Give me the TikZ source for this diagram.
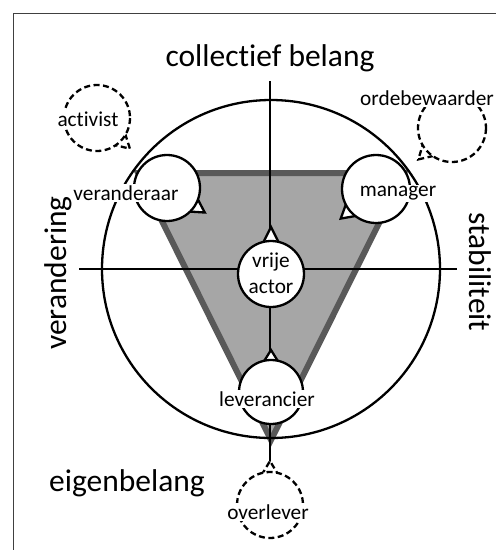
\documentclass[tikz,border=0pt]{standalone}
\usepackage{fontspec}
\setmainfont{Carlito}[Ligatures={NoCommon,NoRequired,NoContextual}]
\usetikzlibrary{calc}
\definecolor{tribord}{HTML}{595959}
\definecolor{trifill}{HTML}{A6A6A6}
\newcommand\bubble[6]{% name, center, radius, angle, tip distance, style
  \coordinate (#1) at #2;
  \pgfmathsetmacro\bubA{#4+18}\pgfmathsetmacro\bubB{#4-18}\pgfmathsetmacro\bubR{#3-3}
  \filldraw[#6] ($(#1)+(\bubA:\bubR)$) -- ($(#1)+(#4:#5)$) -- ($(#1)+(\bubB:\bubR)$) -- cycle;
  \filldraw[#6] (#1) circle[radius=#3];
}
\begin{document}
\begin{tikzpicture}[x=1pt,y=-1pt,
  ln/.style={line width=2.3pt},
  bub/.style={draw=black, line width=2.3pt, fill=white, line join=miter},
  dbub/.style={bub, dash pattern=on 6pt off 3.5pt},
  lbl/.style={font=\fontsize{21.3}{26}\selectfont, fill=white, inner sep=1.5pt},
  big/.style={font=\fontsize{31.5}{36}\selectfont, inner sep=0pt},
]
\useasboundingbox (0,0) rectangle (496,550);
\fill[white] (0,0) rectangle (496,550);
\draw[black!75, line width=1pt] (13,560) -- (13,13) -- (506,13);

% triangle
\coordinate (tl) at (138,173);
\coordinate (tr) at (404,173);
\coordinate (tb) at (271,440);
\filldraw[fill=trifill, draw=tribord, line width=6pt, line join=miter] (tl) -- (tr) -- (tb) -- cycle;

% big circle
\coordinate (ctr) at (271,269);
\draw[ln] (ctr) circle[radius=169];

% axes
\coordinate (vtop) at (270,81);
\coordinate (vbot) at (270,462);
\coordinate (hl) at (79,269);
\coordinate (hr) at (457,269);
\draw[ln] (vtop) -- (vbot);
\draw[ln] (hl) -- (hr);

% bubbles
\bubble{bva}{(271,274)}{33}{-90}{47}{bub}
\bubble{blev}{(271,392)}{32}{-90}{42}{bub}
\bubble{bver}{(167,188)}{33}{33}{45}{bub}
\bubble{bman}{(376,189)}{34}{140}{46}{bub}
\bubble{bact}{(97,118)}{33}{43}{45}{dbub}
\bubble{bord}{(452,128)}{34}{137}{46}{dbub}
\bubble{bovl}{(270,505)}{33}{-90}{44}{dbub}

% labels
\node[lbl, fill=none, align=center, inner sep=0pt] (tva) at (271,273) {vrije\\actor};
\node[lbl] (tlev) at (267,399) {leverancier};
\node[lbl] (tver) at (126,193) {veranderaar};
\node[lbl] (tman) at (398,193) {manager};
\node[lbl] (tact) at (88,119) {activist};
\node[lbl] (tord) at (427,98) {ordebewaarder};
\node[lbl] (tovl) at (268,512) {overlever};

\node[big] (tcol) at (270,58) {collectief belang};
\node[big, rotate=90] (tverand) at (58,273) {verandering};
\node[big, rotate=-90] (tstab) at (480,272) {stabiliteit};
\node[big] (teig) at (127,483) {eigenbelang};
\end{tikzpicture}
\end{document}
